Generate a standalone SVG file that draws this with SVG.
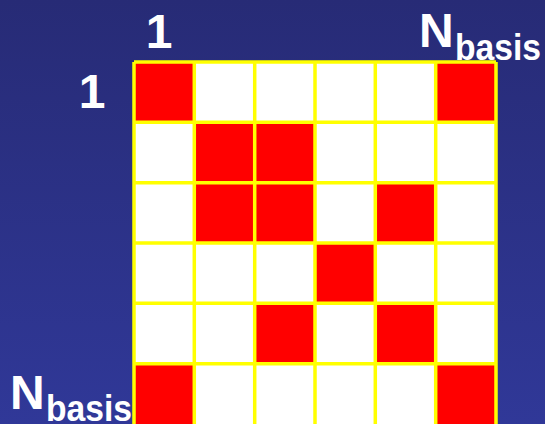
<svg xmlns="http://www.w3.org/2000/svg" width="545" height="424" viewBox="0 0 545 424">
<defs>
<linearGradient id="bg" x1="0" y1="0" x2="0" y2="1">
<stop offset="0" stop-color="#272b76"/>
<stop offset="1" stop-color="#303898"/>
</linearGradient>
</defs>
<style>
.lbl{font-family:"Liberation Sans",Arial,sans-serif;font-weight:bold;fill:#ffffff}
.big{font-size:48px}
.sub{font-size:37px}
.w{fill:#ffffff}
.r{fill:#ff0000}
.grid{stroke:#ffff00;stroke-width:3.5;fill:none}
</style>
<rect width="545" height="424" fill="url(#bg)"/>
<g id="matrix">
<rect x="134" y="62" width="362" height="362" class="w"/>
<g id="cells">
<rect x="134" y="62" width="60.3" height="60.3" class="r"/>
<rect x="435.7" y="62" width="60.3" height="60.3" class="r"/>
<rect x="194.3" y="122.3" width="60.3" height="60.3" class="r"/>
<rect x="254.7" y="122.3" width="60.3" height="60.3" class="r"/>
<rect x="194.3" y="182.7" width="60.3" height="60.3" class="r"/>
<rect x="254.7" y="182.7" width="60.3" height="60.3" class="r"/>
<rect x="375.3" y="182.7" width="60.3" height="60.3" class="r"/>
<rect x="315" y="243" width="60.3" height="60.3" class="r"/>
<rect x="254.7" y="303.3" width="60.3" height="60.3" class="r"/>
<rect x="375.3" y="303.3" width="60.3" height="60.3" class="r"/>
<rect x="134" y="363.7" width="60.3" height="60.3" class="r"/>
<rect x="435.7" y="363.7" width="60.3" height="60.3" class="r"/>
</g>
<path class="grid" d="M134 62V424M194.3 62V424M254.7 62V424M315 62V424M375.3 62V424M435.7 62V424M496 62V424M134 62H496M134 122.3H496M134 182.7H496M134 243H496M134 303.3H496M134 363.7H496"/>
</g>
<g id="labels">
<text class="lbl big" x="159" y="48" text-anchor="middle">1</text>
<text class="lbl big" x="92" y="108" text-anchor="middle">1</text>
<text class="lbl big" x="419" y="47">N</text>
<text class="lbl sub" x="455" y="60" textLength="86" lengthAdjust="spacingAndGlyphs">basis</text>
<text class="lbl big" x="10" y="409">N</text>
<text class="lbl sub" x="46" y="421" textLength="86" lengthAdjust="spacingAndGlyphs">basis</text>
</g>
</svg>
